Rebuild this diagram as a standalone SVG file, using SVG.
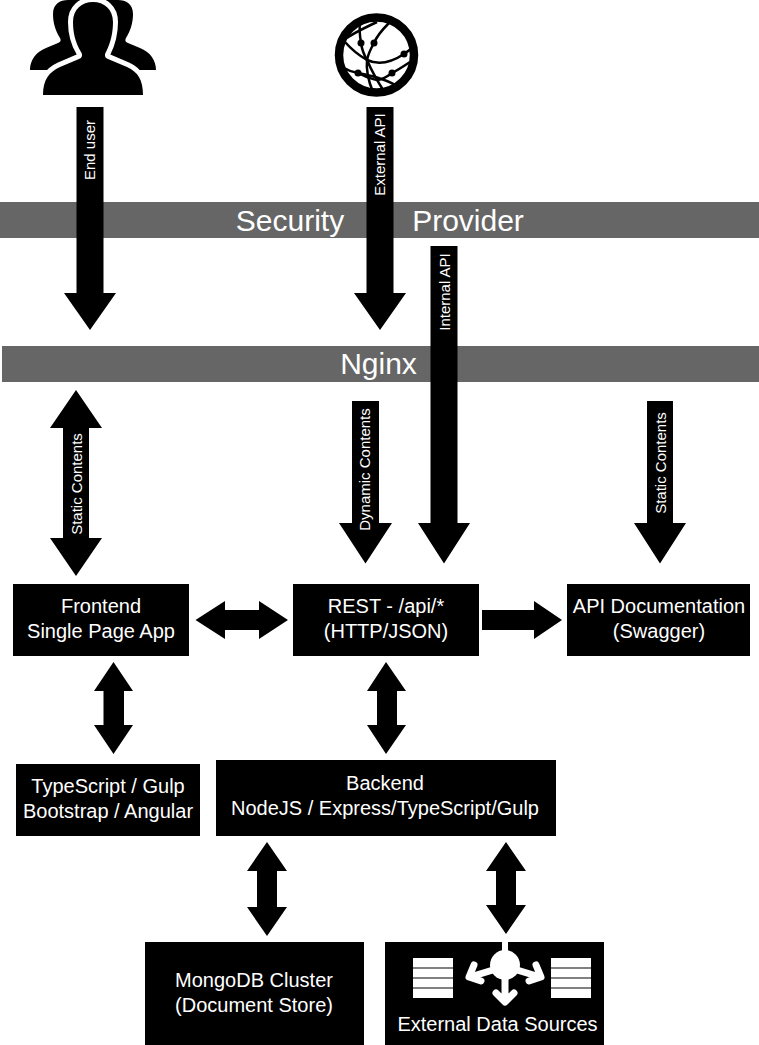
<svg xmlns="http://www.w3.org/2000/svg" width="759" height="1045" viewBox="0 0 759 1045">
<style>
text{font-family:"Liberation Sans",Arial,sans-serif;fill:#fff;text-anchor:middle}
.box{fill:#000}
.bar{fill:#666}
.t{font-size:20px}
.big{font-size:30px}
.rot{font-size:15px}
.a{fill:#000}
</style>
<rect width="759" height="1045" fill="#fff"/>
<g id="security-provider"><rect class="bar" x="0" y="202" width="759" height="36"/><text class="big" x="290" y="231">Security</text><text class="big" x="468" y="231">Provider</text></g>
<g id="nginx"><rect class="bar" x="2" y="346" width="757" height="36"/><text class="big" x="378.500" y="374">Nginx</text></g>
<g id="end-user"><path d="M30 70C30 60 36 52 46 48L58 43C61 42 61 40 60 38C55 30 53 22 53 14C53 4 60 0 68 0H118C126 0 133 4 133 14C133 22 131 30 126 38C125 40 125 42 128 43L140 48C150 52 156 60 156 70Z"/><path d="M43 95C43 80 49 72 60 67L79 59C82 58 83 55 81 52C75 42 73 32 73 22C73 9 82 2 93 2C104 2 113 9 113 22C113 32 111 42 106 52C104 55 105 58 108 59L127 67C138 72 143 80 143 95Z" stroke="#fff" stroke-width="10" paint-order="stroke"/><rect x="30" y="95" width="126" height="6" fill="#fff"/></g>
<g id="external-api"><circle cx="376.500" cy="55" r="38" fill="#fff"/><g fill="none" stroke="#000" stroke-width="2.500"><path d="M389 23C382 30 376 38 374 43C370 50 368 55 367 60C366 70 368 80 373 92"/><path d="M360 22C359 30 360 37 361 43C362 50 364 55 367 60C372 72 378 82 385 93"/><path d="M345 42C352 50 360 56 367 60C380 66 392 62 404 54C407 52 410 50 413 47"/><path d="M342 67C347 70 352 72 358 73C365 76 370 79 377 80C382 80 388 76 392 73C398 70 404 66 410 62"/><path d="M347 38C352 34 360 30 377 22"/><path d="M358 73C372 76 382 78 398 86"/></g><circle cx="361" cy="43" r="3.500"/><circle cx="374" cy="43" r="3.500"/><circle cx="404" cy="54" r="3.500"/><circle cx="358" cy="73" r="3.500"/><circle cx="392" cy="73" r="3.500"/><circle cx="376.500" cy="55" r="37.500" fill="none" stroke="#000" stroke-width="8.500"/></g>
<g id="connectors">
<path class="a" d="M76.500 107H103.500V293H116L90 330L64 293H76.500Z"/>
<path class="a" d="M366.500 107H393.500V293H406L380 330L354 293H366.500Z"/>
<path class="a" d="M430.500 246H457.500V523H470L444 563.500L418 523H430.500Z"/>
<path class="a" d="M76 390L102 428H89V538H102L76 576L50 538H63V428H50Z"/>
<path class="a" d="M352 401H379V523H392L365.500 563.500L339 523H352Z"/>
<path class="a" d="M647 401H673V523H686L660 563.500L634 523H647Z"/>
<path class="a" d="M195.500 620L225 601V610H259V601L288 620L259 639V630H225V639Z"/>
<path class="a" d="M482 610H534V601L562 620L534 639V630H482Z"/>
<path class="a" d="M113.500 662L133 691H124V725H133L113.500 754L94 725H103.500V691H94Z"/>
<path class="a" d="M386 662L406 691H397V725H406L386 754L367 725H377V691H367Z"/>
<path class="a" d="M267 842L287 871H277V907H287L267 936L247 907H257V871H247Z"/>
<path class="a" d="M506 842L526 871H516V905H526L506 934L486 905H496V871H486Z"/>
</g>
<text class="rot" transform="translate(95 150) rotate(-90)">End user</text>
<text class="rot" transform="translate(385 154.500) rotate(-90)">External API</text>
<text class="rot" transform="translate(450 292) rotate(-90)">Internal API</text>
<text class="rot" transform="translate(81.500 484) rotate(-90)">Static Contents</text>
<text class="rot" transform="translate(370 469.500) rotate(-90)">Dynamic Contents</text>
<text class="rot" transform="translate(665.500 463) rotate(-90)">Static Contents</text>
<g id="frontend"><rect class="box" x="13" y="584" width="176" height="72"/><text class="t" x="101" y="613">Frontend</text><text class="t" x="101" y="638">Single Page App</text></g>
<g id="rest"><rect class="box" x="293" y="584" width="186" height="72"/><text class="t" x="386" y="613">REST - /api/*</text><text class="t" x="386" y="638">(HTTP/JSON)</text></g>
<g id="api-doc"><rect class="box" x="567" y="584" width="183" height="72"/><text class="t" x="659" y="613">API Documentation</text><text class="t" x="659" y="638">(Swagger)</text></g>
<g id="toolchain"><rect class="box" x="16" y="764" width="184" height="72"/><text class="t" x="108" y="793">TypeScript / Gulp</text><text class="t" x="108" y="818">Bootstrap / Angular</text></g>
<g id="backend"><rect class="box" x="216" y="760" width="340" height="76"/><text class="t" x="385" y="790">Backend</text><text class="t" x="385" y="815">NodeJS / Express/TypeScript/Gulp</text></g>
<g id="mongodb"><rect class="box" x="145" y="942" width="219" height="103"/><text class="t" x="254" y="987">MongoDB Cluster</text><text class="t" x="254" y="1012">(Document Store)</text></g>
<g id="external-data"><rect class="box" x="385" y="942" width="219" height="103"/>
<g fill="#fff"><path d="M413 958H453V967.500H413ZM413 968.500H453V977.500H413ZM413 978.500H453V987.500H413ZM413 988.500H453V998H413Z"/><path d="M551 958H591V967.500H551ZM551 968.500H591V977.500H551ZM551 978.500H591V987.500H551ZM551 988.500H591V998H551Z"/><rect x="502" y="942" width="6" height="12"/><circle cx="505" cy="965" r="15"/></g>
<g fill="none" stroke="#fff" stroke-width="7" stroke-linecap="round" stroke-linejoin="round"><path d="M505 975V1001M496 993L505 1002L514 993"/><path d="M493 970L470 977M474 965L469 977L481 981"/><path d="M517 970L540 977M536 965L541 977L529 981"/></g>
<text x="497.500" y="1031" style="font-size:20px">External Data Sources</text></g>
</svg>
